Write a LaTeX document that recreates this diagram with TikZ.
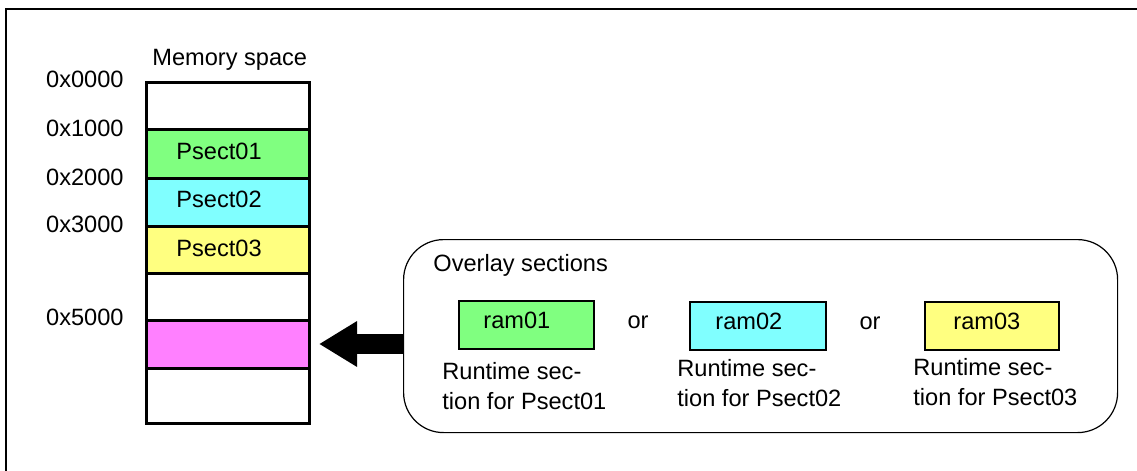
\documentclass[tikz,border=0pt]{standalone}
\usepackage{fontspec}
\setmainfont{Liberation Sans}
\usetikzlibrary{arrows.meta}
\definecolor{secgreen}{HTML}{80FF80}
\definecolor{seccyan}{HTML}{80FFFF}
\definecolor{secyellow}{HTML}{FFFF80}
\definecolor{secpink}{HTML}{FF80FF}
\begin{document}
\begin{tikzpicture}[x=0.5pt,y=-0.5pt,
	lbl/.style={inner sep=0pt,font=\fontsize{11.8}{15}\selectfont},
	cell/.style={draw,line width=1.5pt,anchor=north west,minimum width=81.5pt,inner sep=0pt,outer sep=0pt},
	rambox/.style={draw,line width=1pt,anchor=north west,minimum height=24pt,inner sep=0pt,outer sep=0pt},
	bigarrow/.style={line width=10pt,-{Triangle[length=19pt,width=21.5pt]}}]
	\useasboundingbox (0,0) rectangle (1137,471);
	\draw[line width=0.6pt] (1137,9) -- (6,9) -- (6,471);
	% memory space column
	\node[lbl,anchor=base west] (memtitle) at (152,65) {Memory space};
	\node[cell,minimum height=23.5pt] (c0) at (146,82) {};
	\node[cell,fill=secgreen,minimum height=24.5pt] (p1) at (146,129) {};
	\node[cell,fill=seccyan,minimum height=24pt] (p2) at (146,178) {};
	\node[cell,fill=secyellow,minimum height=23.5pt] (p3) at (146,226) {};
	\node[cell,minimum height=23.5pt] (c4) at (146,273) {};
	\node[cell,fill=secpink,minimum height=24pt] (p5) at (146,320) {};
	\node[cell,minimum height=27.5pt] (c6) at (146,368) {};
	\node[lbl,anchor=base west] (p1txt) at (176,159) {Psect01};
	\node[lbl,anchor=base west] (p2txt) at (176,207) {Psect02};
	\node[lbl,anchor=base west] (p3txt) at (176,256) {Psect03};
	% addresses
	\node[lbl,anchor=base east] (a0) at (124,87)  {0x0000};
	\node[lbl,anchor=base east] (a1) at (124,136) {0x1000};
	\node[lbl,anchor=base east] (a2) at (124,185) {0x2000};
	\node[lbl,anchor=base east] (a3) at (124,232) {0x3000};
	\node[lbl,anchor=base east] (a5) at (124,325) {0x5000};
	% overlay sections
	\node[draw,line width=0.6pt,rounded corners=20pt,anchor=north west,minimum width=357pt,minimum height=96.5pt,inner sep=0pt] (ovl) at (403,239) {};
	\node[lbl,anchor=base west] (ovltitle) at (433,271) {Overlay sections};
	\node[rambox,fill=secgreen,minimum width=67.5pt] (r1) at (459,301) {};
	\node[rambox,fill=seccyan,minimum width=68pt] (r2) at (690,302) {};
	\node[rambox,fill=secyellow,minimum width=67pt] (r3) at (925,302) {};
	\node[lbl,anchor=base west] (r1txt) at (483,328) {ram01};
	\node[lbl,anchor=base west] (r2txt) at (715,329) {ram02};
	\node[lbl,anchor=base west] (r3txt) at (953,329) {ram03};
	\node[lbl,anchor=base] (or1) at (638,328) {or};
	\node[lbl,anchor=base] (or2) at (870,329) {or};
	\node[lbl,anchor=base west,align=left] (rt1) at (442,409) {Runtime sec-\\tion for Psect01};
	\node[lbl,anchor=base west,align=left] (rt2) at (677,406) {Runtime sec-\\tion for Psect02};
	\node[lbl,anchor=base west,align=left] (rt3) at (913,405) {Runtime sec-\\tion for Psect03};
	\draw[bigarrow] (ovl.west |- p5.center) -- ([xshift=5pt]p5.east);
\end{tikzpicture}
\end{document}
